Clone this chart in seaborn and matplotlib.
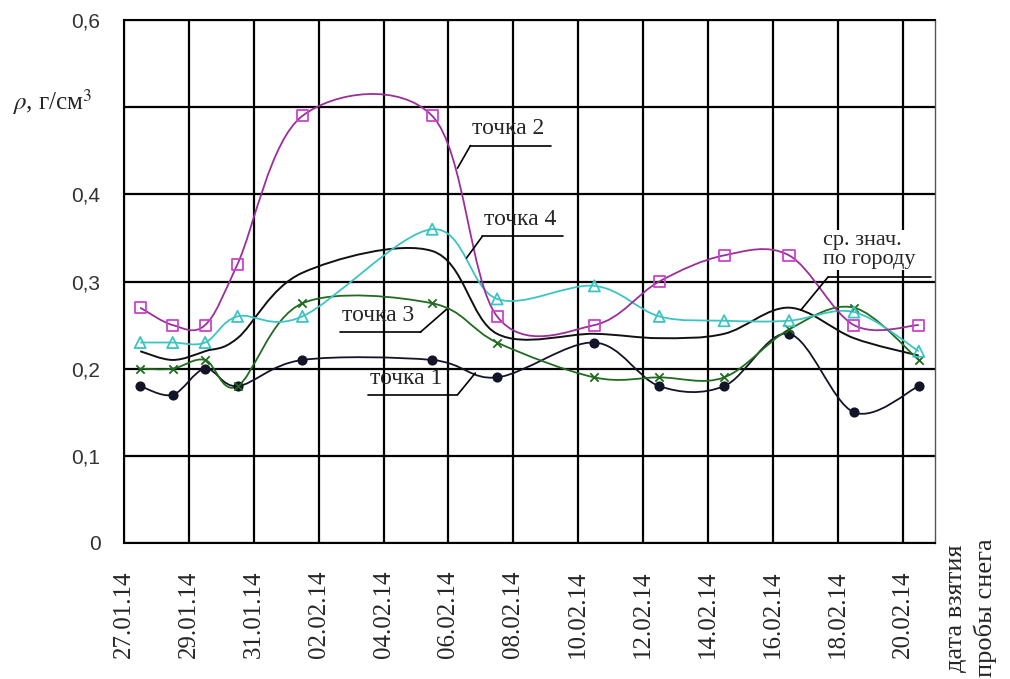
import numpy as np
import pandas as pd
import matplotlib
matplotlib.use("Agg")
import matplotlib.pyplot as plt
import matplotlib.dates as mdates
from matplotlib.path import Path
from matplotlib.patches import PathPatch
import seaborn as sns

# даты отбора проб и плотность снега, г/см3
sample_dates = ["27.01.14", "28.01.14", "29.01.14", "30.01.14", "01.02.14", "05.02.14", "07.02.14",
                "10.02.14", "12.02.14", "14.02.14", "16.02.14", "18.02.14", "20.02.14"]
point1 = [0.18, 0.17, 0.20, 0.18, 0.21, 0.21, 0.19, 0.23, 0.18, 0.18, 0.24, 0.15, 0.18]
point2 = [0.27, 0.25, 0.25, 0.32, 0.49, 0.49, 0.26, 0.25, 0.30, 0.33, 0.33, 0.25, 0.25]
point3 = [0.20, 0.20, 0.21, 0.18, 0.275, 0.275, 0.23, 0.19, 0.19, 0.19, 0.245, 0.27, 0.21]
point4 = [0.23, 0.23, 0.23, 0.26, 0.26, 0.36, 0.28, 0.295, 0.26, 0.255, 0.255, 0.265, 0.22]
city_avg = [0.22, 0.21, 0.22, 0.235, 0.31, 0.335, 0.24, 0.24, 0.235, 0.24, 0.27, 0.235, 0.215]

tick_labels = ["27.01.14", "29.01.14", "31.01.14", "02.02.14", "04.02.14", "06.02.14", "08.02.14",
               "10.02.14", "12.02.14", "14.02.14", "16.02.14", "18.02.14", "20.02.14"]
y_ticks = [0, 0.1, 0.2, 0.3, 0.4, 0.5, 0.6]
y_tick_labels = ["0", "0,1", "0,2", "0,3", "0,4", "", "0,6"]


def smooth_path(x, y):
    # сглаженная линия как в Excel (кривые Безье через точки)
    pts = np.column_stack([x, y])
    n = len(pts)
    verts = [pts[0]]
    codes = [Path.MOVETO]
    for i in range(n - 1):
        p0 = pts[i - 1] if i > 0 else pts[i]
        p1, p2 = pts[i], pts[i + 1]
        p3 = pts[i + 2] if i + 2 < n else pts[i + 1]
        c1 = p1 + (p2 - p0) / 6
        c2 = p2 - (p3 - p1) / 6
        verts += [c1, c2, p2]
        codes += [Path.CURVE4] * 3
    return Path(verts, codes)


sns.set_style("white")
plt.rcParams["font.family"] = ["Liberation Serif", "DejaVu Serif"]
plt.rcParams["mathtext.fontset"] = "stix"

fig = plt.figure(figsize=(10.1, 6.79), dpi=100)
ax = fig.add_axes([124 / 1010, 1 - 543 / 679, (935 - 124) / 1010, (543 - 20) / 679])

dates = pd.to_datetime(sample_dates, format="%d.%m.%y") + pd.Timedelta(hours=12)
xnum = mdates.date2num(dates)
start = mdates.date2num(pd.to_datetime(tick_labels[0], format="%d.%m.%y"))

series = [
    ("точка 1", point1, "#141428", "o", "#141428", 6),
    ("точка 3", point3, "#216b21", "x", "#216b21", 6),
    ("точка 4", point4, "#3cc4c4", "^", "none", 8),
    ("точка 2", point2, "#9a2f9a", "s", "none", 8),
]

ax.add_patch(PathPatch(smooth_path(xnum, city_avg), fill=False, edgecolor="#111111", lw=1.4, zorder=3))
for name, vals, col, mk, fc, ms in series:
    ax.add_patch(PathPatch(smooth_path(xnum, vals), fill=False, edgecolor=col, lw=1.3, zorder=3))
    df = pd.DataFrame({"date": dates, "val": vals})
    edge = "#cc44cc" if name == "точка 2" else col
    sns.scatterplot(data=df, x="date", y="val", ax=ax, marker=mk, s=ms ** 2,
                    facecolor=fc if mk != "x" else col, edgecolor=edge,
                    linewidth=1.3, zorder=4, legend=False)

ax.set_xlim(start, start + 25)
ax.set_ylim(0, 0.6)
ax.set_xticks(mdates.date2num(pd.to_datetime(tick_labels, format="%d.%m.%y")))
ax.set_xticklabels(tick_labels, rotation=90, fontsize=18, family="Liberation Serif")
ax.set_yticks(y_ticks)
ax.set_yticklabels(y_tick_labels, fontsize=15, family="Liberation Sans", color="#333333")
ax.set_xlabel("")
ax.set_ylabel("")
ax.tick_params(axis="x", direction="out", length=8, width=1.3, pad=12, color="black")
ax.tick_params(axis="y", direction="out", length=7, width=1.3, pad=10, color="black")
ax.grid(True, color="black", lw=1.6)
ax.set_axisbelow(True)
for sp in ax.spines.values():
    sp.set_visible(True)
    sp.set_color("black")
    sp.set_linewidth(1.5)
ax.spines["right"].set_linewidth(1.0)
ax.spines["right"].set_color("#555555")

# подписи рядов с выносными линиями
labels = [
    ("точка 2", 10.68, 13.15, 0.456, (10.68, 10.28), (0.456, 0.430)),
    ("точка 4", 11.05, 13.52, 0.352, (11.05, 10.56), (0.352, 0.327)),
    ("точка 3", 6.67, 9.14, 0.242, (9.14, 9.94), (0.242, 0.268)),
    ("точка 1", 7.53, 10.28, 0.170, (10.28, 10.83), (0.170, 0.195)),
]
for txt, x0, x1, yv, lx, ly in labels:
    ax.plot([start + x0, start + x1], [yv, yv], color="black", lw=1.2, zorder=5)
    ax.plot([start + lx[0], start + lx[1]], ly, color="black", lw=1.2, zorder=5)
    ax.text(start + x0 + 0.06, yv + 0.007, txt, fontsize=17, ha="left", va="bottom", zorder=6)

ax.plot([start + 21.7, start + 24.88], [0.305, 0.305], color="black", lw=1.2, zorder=5)
ax.plot([start + 21.7, start + 20.86], [0.305, 0.267], color="black", lw=1.2, zorder=5)
ax.text(start + 21.55, 0.314, "ср. знач.\nпо городу", fontsize=16, ha="left", va="bottom",
        linespacing=1.05, zorder=6,
        bbox=dict(facecolor="white", edgecolor="none", pad=0.5))

fig.text(12 / 1010, 1 - 102 / 679, r"$\rho$, г/см$^3$", fontsize=18, ha="left", va="center")
fig.text(971 / 1010, 1 - 677 / 679, "дата взятия\nпробы снега", rotation=90, fontsize=19,
         ha="center", va="bottom", linespacing=1.4)

fig.savefig("out.png", dpi=100)
